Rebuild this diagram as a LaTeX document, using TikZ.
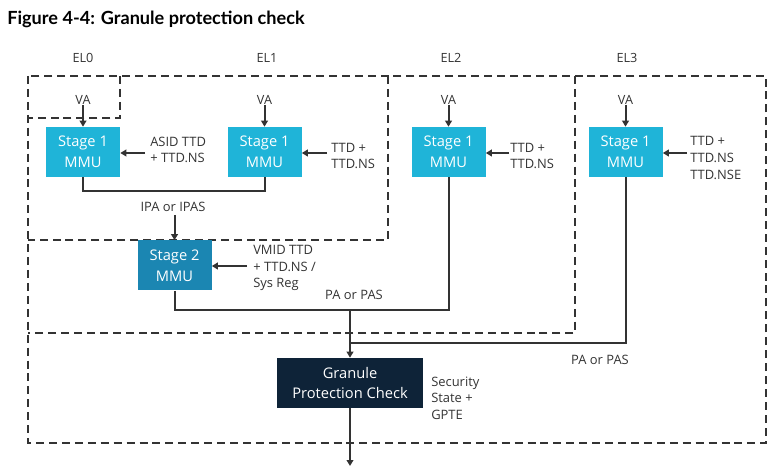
\documentclass[tikz,border=0pt]{standalone}
\usepackage{fontspec}
\setmainfont{Open Sans}
\newfontfamily\titlefont{Lato}
\usetikzlibrary{arrows.meta}
\definecolor{sone}{HTML}{1FB4D8}
\definecolor{stwo}{HTML}{1B86B2}
\definecolor{gpcc}{HTML}{0E2338}
\definecolor{ink}{HTML}{333333}
\tikzset{
  mmubox/.style={fill=sone, text=white, minimum width=55.5pt, minimum height=37.5pt, inner sep=0pt, align=center, font=\fontsize{11}{15.5}\selectfont},
  lbl/.style={text=ink, inner sep=0pt, align=left, font=\fontsize{9.7}{12.5}\selectfont},
  ellbl/.style={text=ink, inner sep=0pt, font=\fontsize{9.5}{12}\selectfont},
  conn/.style={draw=ink, line width=1.5pt},
  arr/.style={conn, -{Triangle[length=4.5pt,width=5pt]}},
  dbox/.style={draw=ink, line width=1.9pt, dash pattern=on 6pt off 3.7pt},
}
\begin{document}
\begin{tikzpicture}[x=0.75pt,y=-0.75pt]
\useasboundingbox (0,0) rectangle (779,474);
\node[anchor=base west, inner sep=0pt, font=\titlefont\bfseries\fontsize{13.6}{16}\selectfont] (title) at (7,25) {Figure 4-4: Granule protection check};
% EL labels
\node[ellbl] (el0) at (83,58) {EL0};
\node[ellbl] (el1) at (267,58) {EL1};
\node[ellbl] (el2) at (451,58) {EL2};
\node[ellbl] (el3) at (627,58) {EL3};
% dashed boxes (shared edges drawn once)
\draw[dbox] (28,76) rectangle (766,443);
\draw[dbox] (575,76) -- (575,333) -- (28,333);
\draw[dbox] (388,76) -- (388,240) -- (28,240);
\draw[dbox] (120,76) -- (120,118) -- (28,118);
% stage 1 boxes
\node[mmubox] (s0) at (83,152) {Stage 1\\MMU};
\node[mmubox] (s1) at (264.5,152) {Stage 1\\MMU};
\node[mmubox] (s2) at (448.5,152) {Stage 1\\MMU};
\node[mmubox] (s3) at (625.5,152) {Stage 1\\MMU};
\node[mmubox, fill=stwo] (st2) at (174.5,265.5) {Stage 2\\MMU};
\node[mmubox, fill=gpcc, minimum width=109.5pt] (gpc) at (350,383) {Granule\\Protection Check};
% VA
\node[ellbl] (va0) at (83,100) {VA};
\node[ellbl] (va1) at (264.5,100) {VA};
\node[ellbl] (va2) at (448.5,100) {VA};
\node[ellbl] (va3) at (625.5,100) {VA};
\draw[arr] (va0.south) -- (s0.north);
\draw[arr] (va1.south) -- (s1.north);
\draw[arr] (va2.south) -- (s2.north);
\draw[arr] (va3.south) -- (s3.north);
% side labels
\node[lbl, anchor=west] (l0) at (150,150) {ASID TTD\\+ TTD.NS};
\node[lbl, anchor=west] (l1) at (331,156) {TTD +\\TTD.NS};
\node[lbl, anchor=west] (l2) at (510,156) {TTD +\\TTD.NS};
\node[lbl, anchor=west] (l3) at (690,158) {TTD +\\TTD.NS\\TTD.NSE};
\node[lbl, anchor=west] (lst2) at (253,268) {VMID TTD\\+ TTD.NS /\\Sys Reg};
\node[lbl, anchor=west] (lgpc) at (431,398) {Security\\State +\\GPTE};
\coordinate (a0) at (145,153);
\coordinate (a1) at (327,153);
\coordinate (a2) at (509,153);
\coordinate (a3) at (687,153);
\coordinate (a4) at (247,266);
\draw[arr] (a0) -- (s0.east |- a0);
\draw[arr] (a1) -- (s1.east |- a1);
\draw[arr] (a2) -- (s2.east |- a2);
\draw[arr] (a3) -- (s3.east |- a3);
\draw[arr] (a4) -- (st2.east |- a4);
% stage1 -> stage2
\coordinate (b0) at (83,191);
\draw[conn] (s0.south) -- (b0) -| (s1.south);
\node[lbl] (ipa) at (173,207) {IPA or IPAS};
\coordinate (ipab) at (174.5,215);
\draw[arr] (ipab) -- (st2.north);
% PA paths
\coordinate (j1) at (350,310);
\coordinate (j2) at (350,343);
\draw[conn] (st2.south) |- (j1) -| (s2.south);
\draw[conn] (s3.south) |- (j2);
\draw[arr] (j1) -- (gpc.north);
\node[lbl] (pa1) at (354,295) {PA or PAS};
\node[lbl] (pa2) at (600,360) {PA or PAS};
\coordinate (out) at (350,466);
\draw[arr] (gpc.south) -- (out);
\end{tikzpicture}
\end{document}
